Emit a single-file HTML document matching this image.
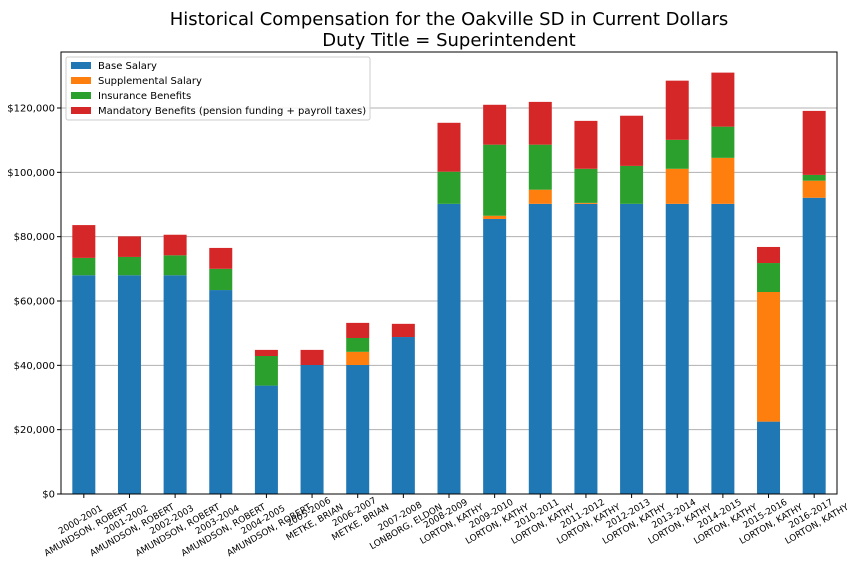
<!DOCTYPE html>
<html><head><meta charset="utf-8"><style>
body{margin:0;background:#fff}
svg{display:block;font-family:"DejaVu Sans","Liberation Sans",sans-serif}
</style></head><body>
<svg id="chart" width="864" height="576" viewBox="0 0 864 576">
<rect width="864" height="576" fill="#fff"/>
<text x="449" y="25" text-anchor="middle" font-size="18">Historical Compensation for the Oakville SD in Current Dollars</text>
<text x="449" y="46" text-anchor="middle" font-size="18">Duty Title = Superintendent</text>
<g id="grid"></g><g id="bars"></g><g id="axes"></g>
</svg>
<script>
const categories=["2000-2001|AMUNDSON, ROBERT","2001-2002|AMUNDSON, ROBERT","2002-2003|AMUNDSON, ROBERT","2003-2004|AMUNDSON, ROBERT","2004-2005|AMUNDSON, ROBERT","2005-2006|METKE, BRIAN","2006-2007|METKE, BRIAN","2007-2008|LONBORG, ELDON","2008-2009|LORTON, KATHY","2009-2010|LORTON, KATHY","2010-2011|LORTON, KATHY","2011-2012|LORTON, KATHY","2012-2013|LORTON, KATHY","2013-2014|LORTON, KATHY","2014-2015|LORTON, KATHY","2015-2016|LORTON, KATHY","2016-2017|LORTON, KATHY"];
const baseSalary=[68000,68000,68000,63400,33700,40100,40100,48800,90200,85500,90200,90200,90200,90200,90200,22500,92100];
const supplemental=[0,0,0,0,0,0,4100,0,0,1000,4400,300,0,10900,14300,40300,5300];
const insurance=[5400,5700,6200,6600,9200,0,4300,0,10000,22100,14000,10600,11800,9000,9700,9000,1800];
const mandatory=[10200,6400,6400,6500,1900,4700,4700,4100,15200,12400,13300,14900,15600,18400,16800,5000,19900];
const seriesNames=["Base Salary","Supplemental Salary","Insurance Benefits","Mandatory Benefits (pension funding + payroll taxes)"];
const colors=["#1f77b4","#ff7f0e","#2ca02c","#d62728"];
const yTicks=[0,20000,40000,60000,80000,100000,120000];
const NS="http://www.w3.org/2000/svg";
const L=61,R=837,T=52,B=494;
const y=v=>B-v*(386/120000);
const step=(R-L)/categories.length;
const x=i=>L+step*(i+0.5);
const bw=23;
function mk(tag,attrs,parent){const e=document.createElementNS(NS,tag);for(const k in attrs)e.setAttribute(k,attrs[k]);parent.appendChild(e);return e;}
const grid=document.getElementById('grid'),bars=document.getElementById('bars'),axes=document.getElementById('axes');
yTicks.forEach(t=>{
 const g=mk('line',{x1:L,x2:R,y1:y(t),y2:y(t),stroke:'#b0b0b0','stroke-width':1},grid);
 
 
 mk('line',{x1:L-4,x2:L,y1:y(t),y2:y(t),stroke:'#000'},axes);
 const tl=mk('text',{x:L-6,y:y(t)+3.5,'text-anchor':'end','font-size':10},axes);
 tl.textContent='$'+t.toLocaleString('en-US');
 
 
});
const series=[baseSalary,supplemental,insurance,mandatory];
categories.forEach((c,i)=>{
 let acc=0;
 series.forEach((s,k)=>{
  const v=s[i];
  if(v>0){
   const r=mk('rect',{x:x(i)-bw/2,y:y(acc+v),width:bw,height:y(acc)-y(acc+v),fill:colors[k]},bars);
   
   
  }
  acc+=v;
 });
 mk('line',{x1:x(i),x2:x(i),y1:B,y2:B+4,stroke:'#000'},axes);
 const parts=c.split('|');
 const g=mk('g',{},axes);
 
 
 const t1=mk('text',{x:0,y:-2,'text-anchor':'middle','font-size':9},g);t1.textContent=parts[0];
 const t2=mk('text',{x:0,y:10,'text-anchor':'middle','font-size':9},g);t2.textContent=parts[1];
 const W=Math.max(t1.getComputedTextLength(),t2.getComputedTextLength());
 const H=23;
 const h=W*0.5+H*0.866;
 g.setAttribute('transform','translate('+(x(i)-1)+','+(490+h/2)+') rotate(-30)');
});
const fr=mk('rect',{x:L,y:T,width:R-L,height:B-T,fill:'none',stroke:'#000','stroke-width':1},axes);


const lg=mk('g',{},axes);


mk('rect',{x:66,y:57,width:304,height:63,fill:'#fff','fill-opacity':0.85,stroke:'#ccc',rx:2},lg);
seriesNames.forEach((n,k)=>{
 const e=mk('g',{},lg);
 
 
 mk('rect',{x:71,y:62+k*15,width:20,height:7,fill:colors[k]},e);
 const t=mk('text',{x:98,y:69+k*15,'font-size':10},e);t.textContent=n;
});
</script>
</body></html>
